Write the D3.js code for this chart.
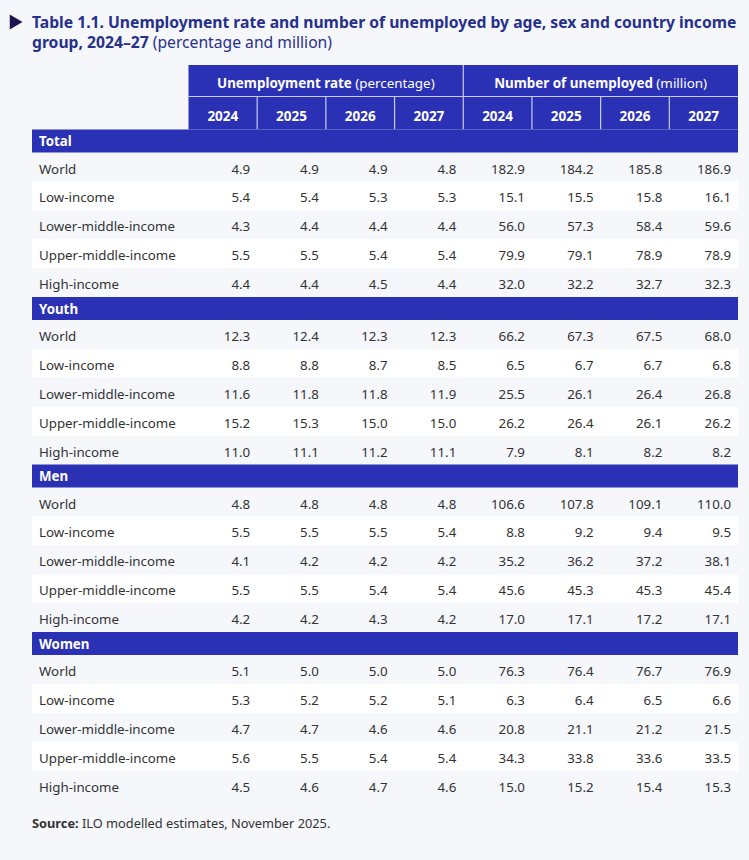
<!DOCTYPE html>
<html>
<head>
<meta charset="utf-8">
<script src="https://cdn.jsdelivr.net/npm/d3@7"></script>
<style>
  html, body { margin: 0; padding: 0; background: #f5f7fb; }
  svg { display: block; font-family: "Noto Sans", "Open Sans", sans-serif; }
</style>
</head>
<body>
<svg id="chart" width="749" height="860"></svg>
<script>
// ---- data ----
const years = ["2024", "2025", "2026", "2027"];
const groups = ["Unemployment rate", "Number of unemployed"];
const groupUnits = ["(percentage)", "(million)"];
const sections = ["Total", "Youth", "Men", "Women"];
const incomeGroups = ["World", "Low-income", "Lower-middle-income", "Upper-middle-income", "High-income"];

const totalValues = [
  [4.9, 4.9, 4.9, 4.8, 182.9, 184.2, 185.8, 186.9],
  [5.4, 5.4, 5.3, 5.3, 15.1, 15.5, 15.8, 16.1],
  [4.3, 4.4, 4.4, 4.4, 56.0, 57.3, 58.4, 59.6],
  [5.5, 5.5, 5.4, 5.4, 79.9, 79.1, 78.9, 78.9],
  [4.4, 4.4, 4.5, 4.4, 32.0, 32.2, 32.7, 32.3]
];
const youthValues = [
  [12.3, 12.4, 12.3, 12.3, 66.2, 67.3, 67.5, 68.0],
  [8.8, 8.8, 8.7, 8.5, 6.5, 6.7, 6.7, 6.8],
  [11.6, 11.8, 11.8, 11.9, 25.5, 26.1, 26.4, 26.8],
  [15.2, 15.3, 15.0, 15.0, 26.2, 26.4, 26.1, 26.2],
  [11.0, 11.1, 11.2, 11.1, 7.9, 8.1, 8.2, 8.2]
];
const menValues = [
  [4.8, 4.8, 4.8, 4.8, 106.6, 107.8, 109.1, 110.0],
  [5.5, 5.5, 5.5, 5.4, 8.8, 9.2, 9.4, 9.5],
  [4.1, 4.2, 4.2, 4.2, 35.2, 36.2, 37.2, 38.1],
  [5.5, 5.5, 5.4, 5.4, 45.6, 45.3, 45.3, 45.4],
  [4.2, 4.2, 4.3, 4.2, 17.0, 17.1, 17.2, 17.1]
];
const womenValues = [
  [5.1, 5.0, 5.0, 5.0, 76.3, 76.4, 76.7, 76.9],
  [5.3, 5.2, 5.2, 5.1, 6.3, 6.4, 6.5, 6.6],
  [4.7, 4.7, 4.6, 4.6, 20.8, 21.1, 21.2, 21.5],
  [5.6, 5.5, 5.4, 5.4, 34.3, 33.8, 33.6, 33.5],
  [4.5, 4.6, 4.7, 4.6, 15.0, 15.2, 15.4, 15.3]
];
const sectionValues = [totalValues, youthValues, menValues, womenValues];

const titleBold1 = "Table 1.1. Unemployment rate and number of unemployed by age, sex and country income";
const titleBold2 = "group, 2024–27";
const titleNormal2 = " (percentage and million)";
const sourceBold = "Source:";
const sourceText = " ILO modelled estimates, November 2025.";

// ---- layout ----
const BLUE = "#2b31b5";
const TITLE = "#27308a";
const TEXT = "#333333";
const svg = d3.select("#chart");

const left = 32, right = 738, dataLeft = 188.5;
const headTop = 65, headMid = 96.5, headBottom = 129.5;
const bandH = 23, rowH = 28.9;
const sectionH = bandH + incomeGroups.length * rowH;

const colIdx = d3.range(years.length * groups.length);
const x = d3.scaleBand().domain(colIdx).range([dataLeft, right]);
const xGroup = d3.scaleBand().domain(groups).range([dataLeft, right]);
const ySection = d3.scaleLinear().domain([0, sections.length]).range([headBottom, headBottom + sections.length * sectionH]);

// Title
svg.append("path").attr("d", d3.symbol().type(d3.symbolTriangle).size(95)())
  .attr("transform", "translate(14,22) rotate(90)").attr("fill", "#1b1650");
const t1 = svg.append("text").attr("x", left).attr("y", 28.3).attr("fill", TITLE)
  .attr("font-size", 15).attr("font-weight", 700).text(titleBold1);
let w = t1.node().getComputedTextLength();
let titleSize = 15 * 705 / w;
t1.attr("font-size", titleSize);
const t2 = svg.append("text").attr("x", left).attr("y", 48.3).attr("fill", TITLE).attr("font-size", titleSize);
t2.append("tspan").attr("font-weight", 700).text(titleBold2);
t2.append("tspan").attr("font-weight", 400).text(titleNormal2);

// Header
svg.append("rect").attr("x", dataLeft).attr("y", headTop).attr("width", right - dataLeft)
  .attr("height", headBottom - headTop).attr("fill", BLUE);
svg.append("line").attr("x1", dataLeft).attr("x2", right).attr("y1", headMid).attr("y2", headMid)
  .attr("stroke", "#c9cdf0").attr("stroke-width", 1.2);
svg.selectAll("line.vsep").data(colIdx.slice(1)).join("line").attr("class", "vsep")
  .attr("x1", d => x(d)).attr("x2", d => x(d))
  .attr("y1", d => d % years.length === 0 ? headTop : headMid).attr("y2", headBottom)
  .attr("stroke", "#c9cdf0").attr("stroke-width", 1.2);
groups.forEach((g, i) => {
  const tx = svg.append("text").attr("x", xGroup(g) + xGroup.bandwidth() / 2).attr("y", headTop + 22.7)
    .attr("text-anchor", "middle").attr("fill", "#fff").attr("font-size", 13.4);
  tx.append("tspan").attr("font-weight", 700).text(g);
  tx.append("tspan").attr("font-weight", 400).text(" " + groupUnits[i]);
});
svg.selectAll("text.year").data(colIdx).join("text").attr("class", "year")
  .attr("x", d => x(d) + x.bandwidth() / 2).attr("y", headMid + 24.5)
  .attr("text-anchor", "middle").attr("fill", "#fff").attr("font-size", 13.5).attr("font-weight", 700)
  .text(d => years[d % years.length]);

// Sections
sections.forEach((s, si) => {
  const y0 = ySection(si);
  const yRow = d3.scaleLinear().domain([0, incomeGroups.length]).range([y0 + bandH, y0 + sectionH]);
  svg.append("rect").attr("x", left).attr("y", y0).attr("width", right - left).attr("height", bandH).attr("fill", BLUE);
  svg.append("text").attr("x", 39).attr("y", y0 + 16.7).attr("fill", "#fff")
    .attr("font-size", 13.3).attr("font-weight", 700).text(s);
  const g = svg.append("g");
  incomeGroups.forEach((lab, ri) => {
    if (ri % 2 === 1) {
      g.append("rect").attr("x", left).attr("y", yRow(ri)).attr("width", right - left)
        .attr("height", rowH).attr("fill", "#ffffff");
    }
    const by = yRow(ri) + 21;
    g.append("text").attr("x", 39).attr("y", by).attr("fill", TEXT).attr("font-size", 13.3).text(lab);
    g.selectAll(null).data(sectionValues[si][ri]).join("text")
      .attr("x", (d, ci) => x(ci) + x.bandwidth() - 7).attr("y", by)
      .attr("text-anchor", "end").attr("fill", TEXT).attr("font-size", 13.3)
      .text(d => d3.format(".1f")(d));
  });
});

// Source
const src = svg.append("text").attr("x", left).attr("y", 828).attr("fill", TEXT).attr("font-size", 12.8);
src.append("tspan").attr("font-weight", 700).text(sourceBold);
src.append("tspan").text(sourceText);
</script>
</body>
</html>
